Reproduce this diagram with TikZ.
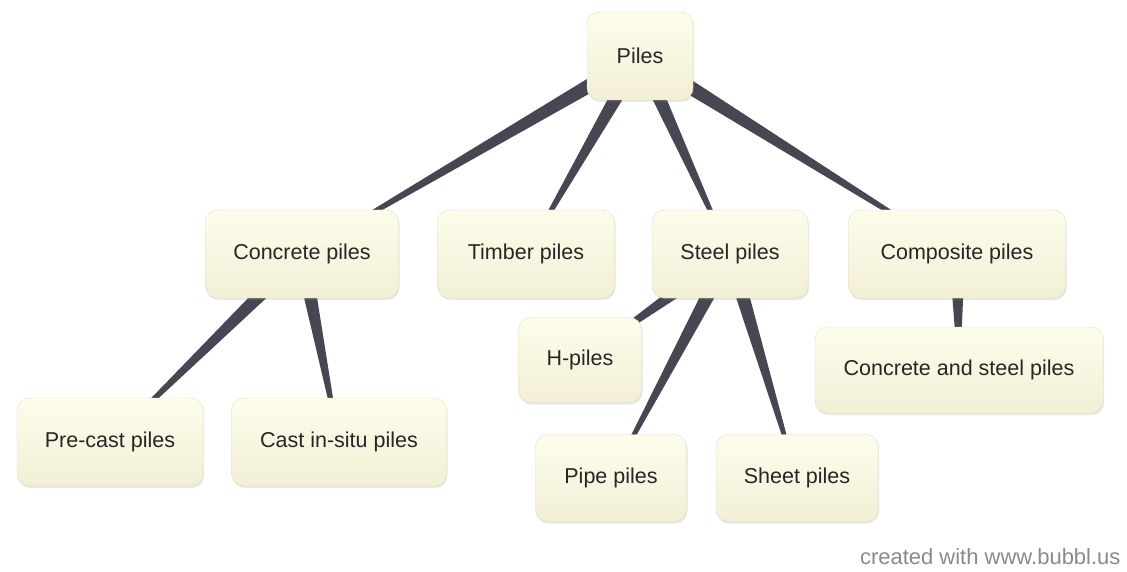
\documentclass[tikz,border=0pt]{standalone}
\usepackage{fontspec}
\setmainfont{Liberation Sans}
\usetikzlibrary{calc,shadows,backgrounds}

\definecolor{bubbletop}{HTML}{FDFDEB}
\definecolor{bubblebot}{HTML}{F2EFD6}
\definecolor{bubbleedge}{HTML}{E2DDBF}
\definecolor{linkcol}{HTML}{474753}
\definecolor{footcol}{HTML}{8A8A8A}

% tapered link: wide at the parent, narrow at the child
\newcommand{\taperlink}[2]{%
  \fill[linkcol] ($(#1)!8pt!90:(#2)$) -- ($(#2)!1pt!-90:(#1)$)
    -- ($(#2)!1pt!90:(#1)$) -- ($(#1)!8pt!-90:(#2)$) -- cycle;}

\begin{document}
\begin{tikzpicture}[x=1pt,y=-1pt]
    \useasboundingbox (0,0) rectangle (1127,572);

        \begin{scope}[every node/.style={rounded corners=12pt,draw=bubbleedge,
                top color=bubbletop,bottom color=bubblebot,minimum height=88pt,
                drop shadow={opacity=0.18,shadow xshift=1pt,shadow yshift=-2pt},
                font=\fontsize{21.5}{25}\selectfont,text=black!85}]
            \node[minimum width=106pt] (piles) at (640,56) {Piles};
            \node[minimum width=193pt] (concrete) at (302,254) {Concrete piles};
            \node[minimum width=177pt] (timber) at (526,254) {Timber piles};
            \node[minimum width=156pt] (steel) at (730,254) {Steel piles};
            \node[minimum width=217pt] (composite) at (957,254) {Composite piles};
            \node[minimum width=123pt,minimum height=85pt] (hpiles) at (580,360) {H-piles};
            \node[minimum width=288pt,minimum height=86pt] (constee) at (959,370) {Concrete and steel piles};
            \node[minimum width=186pt] (precast) at (110,442) {Pre-cast piles};
            \node[minimum width=215pt] (insitu) at (339,442) {Cast in-situ piles};
            \node[minimum width=151pt,minimum height=87pt] (pipe) at (611,478) {Pipe piles};
            \node[minimum width=162pt,minimum height=87pt] (sheet) at (797,478) {Sheet piles};
        \end{scope}

        \begin{scope}[on background layer]
            \taperlink{piles}{concrete}
            \taperlink{piles}{timber}
            \taperlink{piles}{steel}
            \taperlink{piles}{composite}
            \taperlink{concrete}{precast}
            \taperlink{concrete}{insitu}
            \taperlink{steel}{hpiles}
            \taperlink{steel}{pipe}
            \taperlink{steel}{sheet}
            \taperlink{composite}{constee}
        \end{scope}

        \node[anchor=east,text=footcol,font=\fontsize{22}{26}\selectfont] (credit) at (1124,557) {created with www.bubbl.us};

    \end{tikzpicture}
\end{document}
